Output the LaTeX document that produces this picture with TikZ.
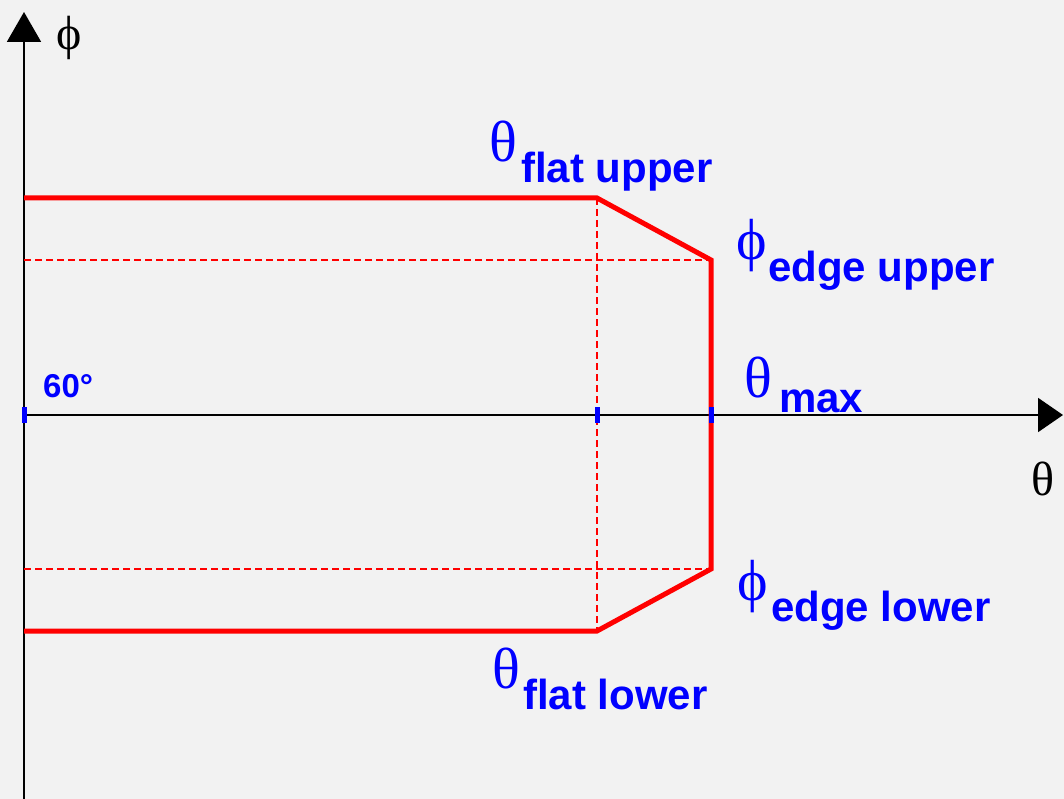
\documentclass[tikz,border=0pt]{standalone}
\usepackage{fontspec}
\setmainfont{Liberation Serif}
\newfontfamily\subfont{Liberation Sans}
\usetikzlibrary{arrows.meta}
\definecolor{bgpaper}{HTML}{F2F2F2}
\tikzset{
  greek/.style={blue, font=\fontsize{58}{64}\selectfont, anchor=base west, inner sep=0pt},
  axislbl/.style={black, font=\fontsize{48}{54}\selectfont, anchor=base west, inner sep=0pt},
  sublbl/.style={blue, font=\subfont\bfseries\fontsize{42}{48}\selectfont, anchor=base west, inner sep=0pt},
  rim/.style={red, line width=5pt, line join=miter},
  guide/.style={red, line width=1.4pt, dash pattern=on 7pt off 4pt},
  tickmark/.style={blue, line width=5pt},
}

\begin{document}
\begin{tikzpicture}[x=1pt,y=-1pt]
\fill[bgpaper] (0,0) rectangle (1064,799);
\useasboundingbox (0,0) rectangle (1064,799);

% axes
\coordinate (o) at (24,415);
\coordinate (ytop) at (24,12);
\coordinate (ybot) at (24,799);
\coordinate (xend) at (1063,415);
\draw[line width=2pt, -{Triangle[length=30pt,width=34pt]}] (ybot) -- (ytop);
\draw[line width=2pt, -{Triangle[length=25pt,width=34pt]}] (o) -- (xend);

% corners of the region
\coordinate (lu) at (24,198);
\coordinate (fu) at (597,198);
\coordinate (eu) at (711,260);
\coordinate (el) at (711,569);
\coordinate (fl) at (597,631);
\coordinate (ll) at (24,631);
\coordinate (eu0) at (24,260);
\coordinate (el0) at (24,569);
\coordinate (tf) at (597,415);
\coordinate (tm) at (711,415);

% guide lines
\draw[guide] (eu0) -- (eu);
\draw[guide] (el0) -- (el);
\draw[guide] (fu) -- (fl);

% outline
\draw[rim] (lu) -- (fu) -- (eu) -- (el) -- (fl) -- (ll);

% ticks on theta axis
\foreach \t in {o,tf,tm}
  \draw[tickmark] ([yshift=-8pt]\t) -- ([yshift=8pt]\t);

% labels
\path
(56,50)    node[axislbl] (phiax) {ϕ}
(1031,495) node[axislbl] (thetaax) {θ}
(43,397)   node[sublbl, font=\subfont\bfseries\fontsize{33}{38}\selectfont] (sixty) {60°}
(489,162)  node[greek] (tfu) {θ}
(521,183)  node[sublbl] (tfusub) {flat upper}
(736,260)  node[greek] (peu) {ϕ}
(768,281)  node[sublbl] (peusub) {edge upper}
(744,397)  node[greek] (tmax) {θ}
(779,412)  node[sublbl] (tmaxsub) {max}
(737,600)  node[greek] (pel) {ϕ}
(771,621)  node[sublbl] (pelsub) {edge lower}
(492,688)  node[greek] (tfl) {θ}
(523,709)  node[sublbl] (tflsub) {flat lower};

\end{tikzpicture}
\end{document}
